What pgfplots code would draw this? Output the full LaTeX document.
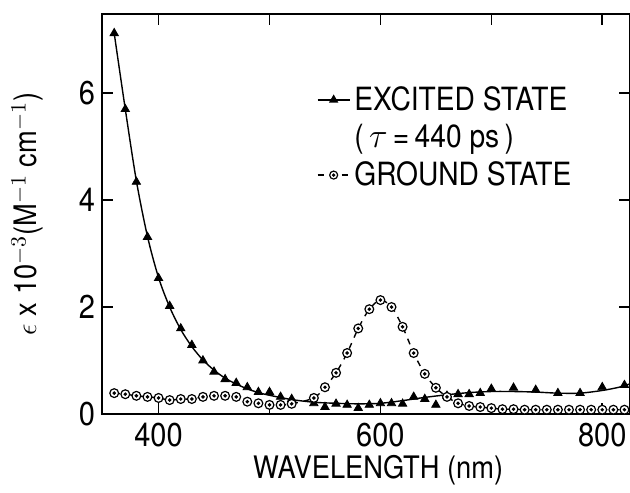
\documentclass[border=0pt]{standalone}
\usepackage{fontspec}
\setmainfont{TeX Gyre Heros}[FakeStretch=0.88]
\setsansfont{TeX Gyre Heros}[FakeStretch=0.88]
\usepackage{pgfplots}
\pgfplotsset{compat=1.18}

% circle with a dot in it, as in the ground-state points
\pgfdeclareplotmark{odot}{%
  \pgfpathcircle{\pgfpoint{0pt}{0pt}}{\pgfplotmarksize}%
  \pgfusepathqfillstroke
  \pgfpathcircle{\pgfpoint{0pt}{0pt}}{0.25\pgfplotmarksize}%
  \pgfusepathqstroke}

\begin{document}
\begin{tikzpicture}
\begin{axis}[
    scale only axis,
    width=264pt, height=200pt,
    xmin=349, xmax=825,
    ymin=0, ymax=7.48,
    xtick={400,500,600,700,800},
    xticklabels={400,,600,,800},
    ytick={0,2,4,6},
    tick align=inside,
    major tick length=5.5pt,
    axis line style={line width=1.3pt},
    every tick/.style={black, line width=0.8pt},
    tick label style={font=\fontsize{16.5}{19}\selectfont},
    /pgf/number format/assume math mode=true,
    xticklabel style={yshift=-1pt},
    xlabel={WAVELENGTH (nm)},
    ylabel={$\epsilon$ x 10$^{-3}$(M$^{-1}$ cm$^{-1}$)},
    label style={font=\fontsize{15.5}{18}\selectfont},
    xlabel style={at={(axis description cs:0.523,-0.14)}, anchor=center},
    ylabel style={at={(axis description cs:-0.142,0.5)}, anchor=center},
    legend cell align=left,
    legend style={at={(axis description cs:0.395,0.84)}, anchor=north west,
        draw=none, fill=none, font=\fontsize{16}{19}\selectfont,
        row sep=1.5pt},
    legend image code/.code={%
        \draw[mark repeat=2, mark phase=2, #1]
            plot coordinates {(0pt,0pt) (8pt,0pt) (16pt,0pt)};},
]

% excited state: smooth curve
\addplot[black, line width=0.7pt, smooth, forget plot] coordinates {
(360,7.12)(370,5.70)(380,4.36)(390,3.32)(400,2.55)(410,2.00)(420,1.58)
(430,1.26)(440,1.01)(450,0.82)(460,0.67)(470,0.56)(480,0.47)(490,0.40)
(500,0.35)(520,0.27)(540,0.22)(560,0.20)(580,0.19)(600,0.20)(620,0.25)
(640,0.31)(660,0.36)(680,0.40)(700,0.42)(720,0.42)(740,0.41)(760,0.39)
(780,0.39)(800,0.44)(815,0.50)(826,0.57)
};

% excited state: measured points
\addplot[black, only marks, mark=triangle*, mark size=2.4pt, forget plot] coordinates {
(360,7.12)(370,5.70)(380,4.34)(390,3.31)(400,2.54)(410,2.02)(420,1.60)
(430,1.29)(440,1.00)(450,0.79)(460,0.65)(470,0.58)(480,0.50)(490,0.41)
(500,0.41)(510,0.32)(520,0.28)(540,0.20)(550,0.13)(560,0.19)(570,0.17)
(580,0.11)(590,0.17)(600,0.20)(610,0.20)(620,0.19)(630,0.32)(640,0.28)
(650,0.17)(660,0.34)(670,0.37)(680,0.37)(690,0.39)(700,0.47)(720,0.49)
(740,0.45)(760,0.39)(780,0.39)(800,0.50)(820,0.54)
};

% ground state
\addplot[black, line width=0.7pt, dashed, smooth, mark=odot, mark size=2.2pt,
    mark options={solid, fill=white, line width=0.6pt}, forget plot] coordinates {
(360,0.39)(370,0.37)(380,0.34)(390,0.32)(400,0.30)(410,0.26)(420,0.28)
(430,0.28)(440,0.32)(450,0.34)(460,0.34)(470,0.32)(480,0.23)(490,0.20)
(500,0.17)(510,0.17)(520,0.19)(540,0.30)(550,0.50)(560,0.77)(570,1.14)
(580,1.60)(590,1.96)(600,2.13)(610,2.00)(620,1.63)(630,1.14)(640,0.75)
(650,0.49)(660,0.32)(670,0.20)(680,0.15)(690,0.13)(700,0.11)(710,0.09)
(720,0.09)(730,0.08)(740,0.08)(750,0.08)(760,0.08)(770,0.08)(780,0.08)
(790,0.08)(800,0.08)(810,0.08)(820,0.08)
};

\addlegendimage{black, line width=0.7pt, mark=triangle*, mark size=2pt}
\addlegendentry{EXCITED STATE}
\addlegendimage{empty legend}
\addlegendentry{(\,$\tau$\,=\,440 ps\,)}
\addlegendimage{black, line width=0.7pt, dashed, mark=odot, mark size=2pt,
    mark options={solid, fill=white, line width=0.6pt}}
\addlegendentry{GROUND STATE}

\coordinate (bl) at (rel axis cs:0,0);
\coordinate (tr) at (rel axis cs:1,1);
\end{axis}
\pgfresetboundingbox
\path ([shift={(-51pt,-39.5pt)}]bl) rectangle ([shift={(0pt,7pt)}]tr);
\end{tikzpicture}
\end{document}
